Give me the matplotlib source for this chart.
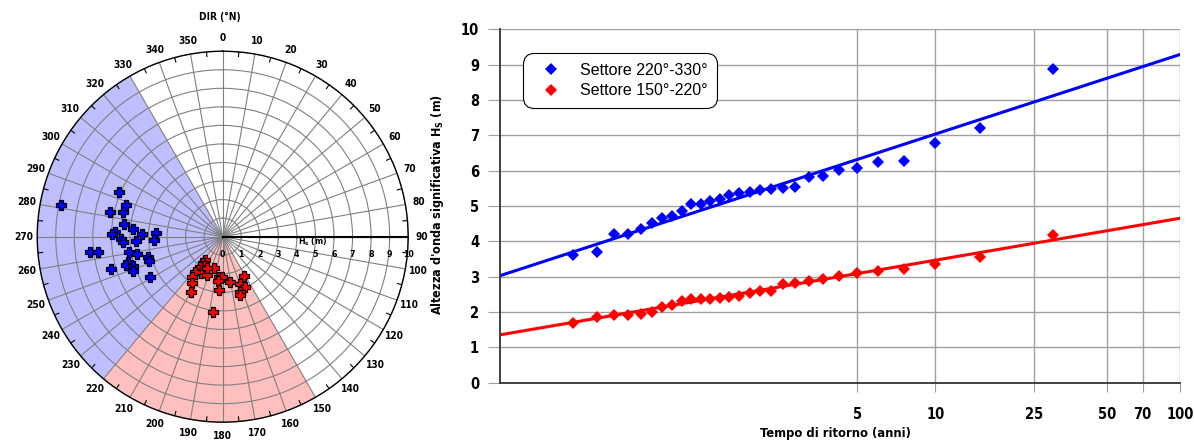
import numpy as np
import matplotlib
matplotlib.use("Agg")
import matplotlib.pyplot as plt
from matplotlib import font_manager
from matplotlib.font_manager import FontProperties
from matplotlib.ticker import FixedLocator, FixedFormatter, NullLocator

# --- polar data: direction (deg N) and Hs (m) of the storms
blue_dir = [281.1, 293.2, 288.1, 282.5, 284.0, 277.2, 274.9, 272.7, 271.2, 271.7,
            273.4, 267.2, 268.5, 266.8, 267.4, 263.6, 263.0, 260.5, 258.5, 254.9,
            252.0, 255.2, 253.7, 251.9, 249.2, 253.9, 240.8]
blue_hs = [8.90, 6.07, 5.50, 6.22, 5.56, 5.36, 4.84, 5.81, 5.95, 4.34,
           3.60, 3.69, 5.47, 5.37, 4.68, 7.20, 6.79, 5.10, 4.70, 4.18,
           4.18, 5.26, 5.43, 5.07, 5.16, 6.27, 4.49]
red_dir = [217.2, 216.9, 212.5, 217.1, 216.2, 211.4, 218.4, 202.7, 195.4, 217.8,
           213.6, 209.7, 184.8, 181.4, 185.7, 183.6, 170.9, 151.5, 159.9, 156.0,
           162.5, 163.5, 187.1, 207.3]
red_hs = [1.58, 1.79, 1.87, 2.03, 2.22, 2.27, 2.41, 2.24, 1.77, 2.73,
          3.02, 3.45, 2.20, 2.16, 2.38, 2.88, 2.49, 2.41, 2.72, 2.95,
          3.11, 3.28, 4.07, 1.88]
sector_blue = (220, 330)
sector_red = (150, 220)

# --- return period plot
tr = [1.034, 1.071, 1.111, 1.154, 1.2, 1.25, 1.304, 1.364, 1.429, 1.5,
      1.579, 1.667, 1.765, 1.875, 2.0, 2.143, 2.308, 2.5, 2.727, 3.0,
      3.333, 3.75, 4.286, 5.0, 6.0, 7.5, 10.0, 15.0, 30.0]
hs_blue = [3.61, 3.69, 4.20, 4.20, 4.34, 4.53, 4.67, 4.72, 4.86, 5.05,
           5.06, 5.14, 5.19, 5.31, 5.36, 5.40, 5.45, 5.47, 5.50, 5.53,
           5.83, 5.86, 6.02, 6.07, 6.24, 6.26, 6.79, 7.20, 8.89]
hs_red = [1.68, 1.87, 1.91, 1.92, 1.93, 2.00, 2.13, 2.20, 2.31, 2.37,
          2.37, 2.37, 2.41, 2.43, 2.46, 2.53, 2.60, 2.60, 2.78, 2.83,
          2.88, 2.94, 3.01, 3.09, 3.15, 3.21, 3.37, 3.56, 4.18]
fit_blue = (4.88, 0.958)   # gumbel location, scale
fit_red = (2.33, 0.505)
tr_ticks = [5, 10, 25, 50, 70, 100]
tr_lim = (1.001, 100)

# look for a narrow bold font (Arial Narrow look), else plain bold
narrow_path = None
best = 99
for f in font_manager.fontManager.ttflist:
    w = f.weight if isinstance(f.weight, int) else font_manager.weight_dict.get(f.weight, 400)
    if w < 600 or "italic" in str(f.style).lower() or "oblique" in str(f.style).lower():
        continue
    nm = f.name + " " + str(f.stretch)
    if "Liberation Sans Narrow" in f.name:
        rank = 0
    elif "Narrow" in nm or "Condensed" in nm or "condensed" in nm:
        rank = 1 if "Sans" in f.name or "Roboto" in f.name or "Open" in f.name else 2
        if "extra" in str(f.stretch) or "ultra" in str(f.stretch):
            rank = 3
    else:
        continue
    if rank < best:
        best, narrow_path = rank, f.fname


def bold(size):
    if narrow_path:
        return FontProperties(fname=narrow_path, size=size)
    return FontProperties(family="Liberation Sans", weight="bold", size=size * 0.9)


plt.rcParams["font.family"] = ["Liberation Sans", "DejaVu Sans"]
plt.rcParams["mathtext.default"] = "regular"

fig = plt.figure(figsize=(11.94, 4.41), dpi=100)

# ---------------- polar plot ----------------
ax = fig.add_axes([0.03116, 0.0426, 0.3107, 0.8413], projection="polar")
ax.set_theta_zero_location("N")
ax.set_theta_direction(-1)
ax.set_ylim(0, 10)

for (a, b), c in [(sector_blue, "#bfbfff"), (sector_red, "#ffbfbf")]:
    ax.bar(np.deg2rad((a + b) / 2), 10, width=np.deg2rad(b - a), bottom=0,
           color=c, edgecolor="none", zorder=0)

ax.set_thetagrids(range(0, 360, 10), labels=[""] * 36)
ax.set_rgrids(range(1, 11), labels=[""] * 10)
ax.grid(True, color="#808080", linewidth=0.8)
ax.spines["polar"].set_color("black")
ax.spines["polar"].set_linewidth(1.0)

for d in range(5, 360, 10):
    ax.plot([np.deg2rad(d)] * 2, [9.75, 10], color="black", lw=0.8, zorder=3)

for d in range(0, 360, 10):
    ax.text(np.deg2rad(d), 10.72, str(d), ha="center", va="center",
            fontproperties=bold(7.3), clip_on=False)

# radial axis along 90 deg
ax.plot([np.pi / 2, np.pi / 2], [0, 10], color="black", lw=1.5, zorder=4)
for r in range(0, 11):
    ax.annotate("", xy=(np.pi / 2, r), xytext=(0, -3), textcoords="offset points",
                arrowprops=dict(arrowstyle="-", color="black", lw=0.8))
    ax.annotate(str(r), xy=(np.pi / 2, r), xytext=(0, -12.7), textcoords="offset points",
                ha="center", va="center", fontproperties=bold(6.3))
ax.annotate("H$_s$ (m)", xy=(np.pi / 2, 4.88), xytext=(0, -3.5), textcoords="offset points",
            ha="center", va="center", fontproperties=bold(6.3))

ax.plot(np.deg2rad(blue_dir), blue_hs, "P", color="#0000ff", mec="black", mew=0.9,
        ms=7, zorder=5, clip_on=False)
ax.plot(np.deg2rad(red_dir), red_hs, "P", color="#ff0000", mec="black", mew=0.9,
        ms=7, zorder=5, clip_on=False)

fig.text(220 / 1194, 1 - 16.7 / 441, "DIR (°N)", ha="center", va="center",
         fontproperties=bold(7.3))

# ---------------- return period plot ----------------
def gumbel(t):
    t = np.asarray(t, dtype=float)
    with np.errstate(all="ignore"):
        return -np.log(-np.log(1 - 1 / t))


def gumbel_inv(y):
    y = np.asarray(y, dtype=float)
    with np.errstate(all="ignore"):
        return 1 / (1 - np.exp(-np.exp(-y)))


bx = fig.add_axes([0.4188, 0.1322, 0.5695, 0.8014])
bx.set_xscale("function", functions=(gumbel, gumbel_inv))
bx.set_xlim(*tr_lim)
bx.set_ylim(0, 10)

t_line = np.array(tr_lim)
bx.plot(t_line, fit_blue[0] + fit_blue[1] * gumbel(t_line), color="#0000ff", lw=2.2, zorder=3)
bx.plot(t_line, fit_red[0] + fit_red[1] * gumbel(t_line), color="#ff0000", lw=2.2, zorder=3)
bx.plot(tr, hs_blue, "D", color="#0000ff", ms=6, mew=0, zorder=4, label="Settore 220°-330°")
bx.plot(tr, hs_red, "D", color="#ff0000", ms=6, mew=0, zorder=4, label="Settore 150°-220°")

bx.xaxis.set_major_locator(FixedLocator(tr_ticks))
bx.xaxis.set_major_formatter(FixedFormatter([str(t) for t in tr_ticks]))
bx.xaxis.set_minor_locator(NullLocator())
bx.set_yticks(range(0, 11))
bx.grid(True, color="#a0a0a0", linewidth=1.0)
bx.set_axisbelow(True)
for s in ["top", "right"]:
    bx.spines[s].set_visible(False)
for s in ["left", "bottom"]:
    bx.spines[s].set_color("#333333")
    bx.spines[s].set_linewidth(1.3)
    bx.spines[s].set_zorder(5)
bx.tick_params(axis="y", length=8.6, width=0.8, color="#a0a0a0", pad=6.5)
bx.tick_params(axis="x", length=6.5, width=0.8, color="#a0a0a0", pad=11)
for lab in bx.get_xticklabels() + bx.get_yticklabels():
    lab.set_fontproperties(bold(10.5))

bx.set_xlabel("Tempo di ritorno (anni)", fontproperties=bold(9.3))
bx.xaxis.set_label_coords(0.4926, -0.124)
bx.set_ylabel("Altezza d'onda significativa H$_S$ (m)", fontproperties=bold(9))
bx.yaxis.set_label_coords(-0.079, 0.503)

leg = bx.legend(loc="upper left", bbox_to_anchor=(0.0334, 0.932), borderaxespad=0,
                prop={"family": "Liberation Sans", "size": 11.5}, handlelength=2.3,
                handletextpad=0.67, borderpad=0.6, labelspacing=0.35, framealpha=1)
frame = leg.get_frame()
frame.set_edgecolor("black")
frame.set_linewidth(0.8)
frame.set_boxstyle("round", pad=0, rounding_size=0.7)

fig.savefig("out.png", dpi=100)
